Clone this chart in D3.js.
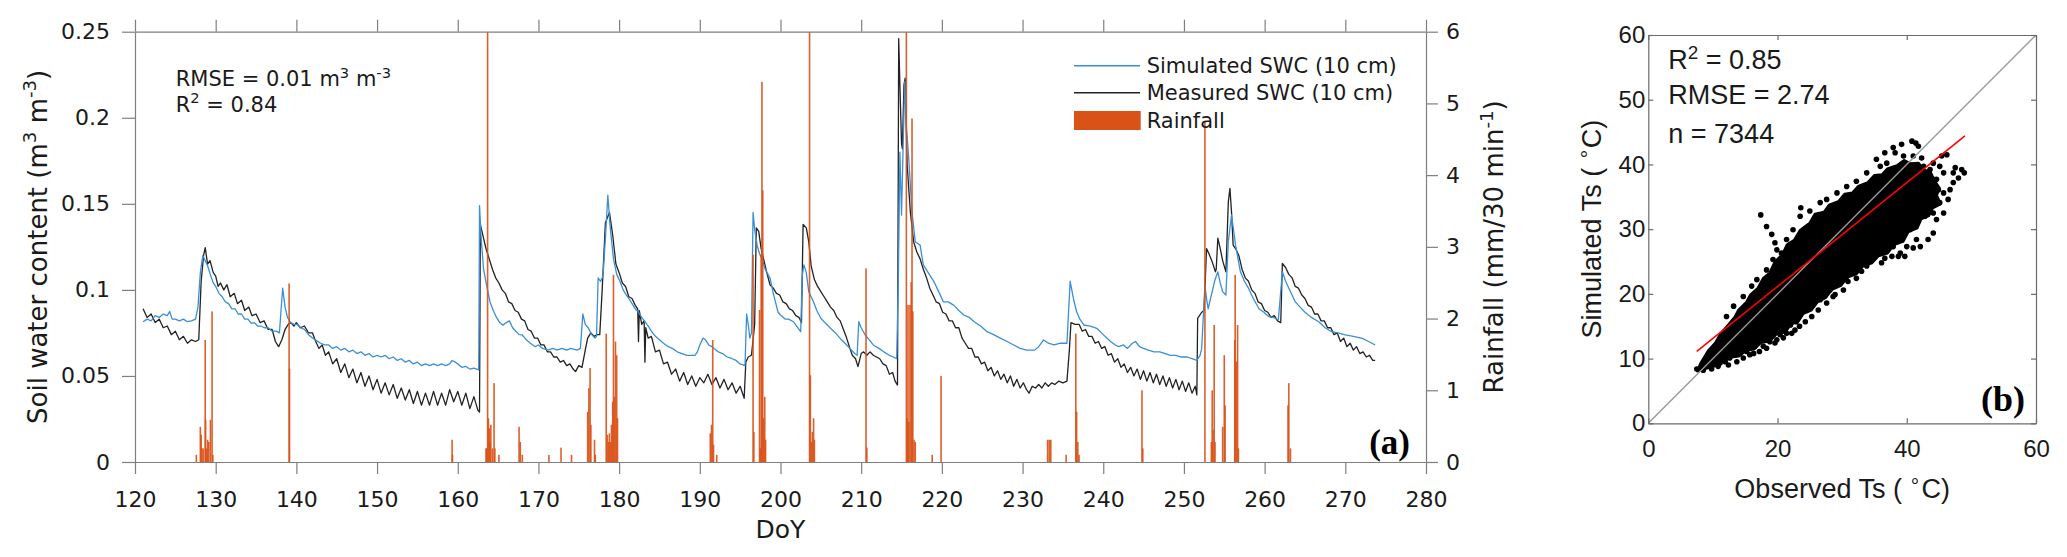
<!DOCTYPE html>
<html>
<head>
<meta charset="utf-8">
<script src="https://cdn.jsdelivr.net/npm/d3@7"></script>
<style>
body { margin: 0; background: #fff; }
</style>
</head>
<body>
<svg id="chart" width="2067" height="557"></svg>
<script>
// ---- panel (a) data ----
var doyTicks = [120, 130, 140, 150, 160, 170, 180, 190, 200, 210, 220, 230, 240, 250, 260, 270, 280];
var swcTicks = [0, 0.05, 0.1, 0.15, 0.2, 0.25];
var swcTickLabels = ["0", "0.05", "0.1", "0.15", "0.2", "0.25"];
var rainTicks = [0, 1, 2, 3, 4, 5, 6];

// [DoY, m3 m-3]
var simulatedSWC = [
[121.0,0.0815],[121.5,0.083],[122.0,0.082],[122.5,0.085],[123.0,0.084],[123.5,0.086],[124.0,0.085],[124.3,0.0875],[124.6,0.083],
[125.0,0.083],[125.5,0.082],[126.0,0.083],[126.5,0.0815],[127.0,0.082],[127.5,0.083],[127.8,0.090],[128.1,0.110],[128.4,0.120],
[128.7,0.117],[129.0,0.114],[129.4,0.108],[129.7,0.104],[130.0,0.102],[130.4,0.098],[130.8,0.096],[131.2,0.093],[131.6,0.092],
[132.0,0.089],[132.4,0.089],[132.8,0.086],[133.2,0.086],[133.6,0.083],[134.0,0.083],[134.4,0.0805],[134.8,0.081],[135.2,0.079],
[135.6,0.079],[136.0,0.078],[136.5,0.078],[137.0,0.076],[137.5,0.076],[137.9,0.075],[138.1,0.088],[138.3,0.101],[138.6,0.090],
[138.9,0.084],[139.3,0.081],[139.7,0.080],[140.1,0.080],[140.5,0.078],[141.0,0.077],[141.5,0.074],[142.0,0.072],[142.5,0.0705],
[143.0,0.069],[143.5,0.068],[144.0,0.068],[144.5,0.066],[145.0,0.067],[145.5,0.065],[146.0,0.066],[146.5,0.064],[147.0,0.065],
[147.5,0.063],[148.0,0.064],[148.5,0.062],[149.0,0.063],[149.5,0.061],[150.0,0.062],[150.5,0.061],[151.0,0.062],[151.5,0.060],
[152.0,0.061],[152.5,0.059],[153.0,0.060],[153.5,0.058],[154.0,0.059],[154.5,0.057],[155.0,0.058],[155.5,0.056],[156.0,0.057],
[156.5,0.056],[157.0,0.057],[157.5,0.056],[158.0,0.057],[158.5,0.056],[159.0,0.057],[159.3,0.059],[159.7,0.058],[160.0,0.057],
[160.5,0.055],[161.0,0.0555],[161.5,0.054],[162.0,0.0545],[162.6,0.0535],[162.7,0.149],[162.9,0.130],[163.2,0.112],[163.6,0.102],
[164.0,0.093],[164.4,0.088],[164.8,0.084],[165.2,0.081],[165.6,0.0795],[166.0,0.081],[166.4,0.082],[166.8,0.078],[167.2,0.076],
[167.6,0.074],[168.0,0.0738],[168.5,0.071],[169.0,0.069],[169.6,0.067],[170.0,0.068],[170.5,0.066],[171.2,0.065],[171.8,0.066],
[172.3,0.065],[172.9,0.066],[173.5,0.065],[174.0,0.066],[174.8,0.065],[175.2,0.066],[175.5,0.086],[175.8,0.080],[176.2,0.0777],
[176.6,0.074],[177.0,0.072],[177.2,0.073],[177.4,0.107],[177.7,0.105],[178.0,0.108],[178.3,0.130],[178.6,0.155],[178.9,0.136],
[179.3,0.118],[179.7,0.109],[180.1,0.105],[180.5,0.100],[180.9,0.097],[181.2,0.095],[181.6,0.092],[182.0,0.089],[182.4,0.087],
[182.8,0.084],[183.2,0.0815],[183.6,0.079],[184.0,0.076],[184.5,0.073],[185.0,0.071],[185.5,0.069],[186.1,0.067],[186.6,0.066],
[187.2,0.064],[187.8,0.063],[188.4,0.062],[189.0,0.062],[189.4,0.062],[189.7,0.064],[190.0,0.068],[190.4,0.072],[190.7,0.071],
[191.1,0.068],[191.5,0.067],[192.0,0.065],[192.3,0.064],[192.8,0.063],[193.4,0.061],[194.0,0.060],[194.5,0.059],[195.0,0.057],
[195.6,0.056],[195.8,0.086],[196.0,0.080],[196.2,0.072],[196.4,0.075],[196.6,0.145],[196.8,0.135],[197.1,0.126],[197.4,0.121],
[197.7,0.118],[198.1,0.112],[198.7,0.107],[199.1,0.098],[199.7,0.087],[200.0,0.0854],[200.6,0.083],[201.0,0.083],[201.6,0.0815],
[202.0,0.079],[202.5,0.0757],[202.7,0.1086],[202.9,0.1145],[203.2,0.110],[203.5,0.099],[204.1,0.093],[204.5,0.088],[205.0,0.0835],
[205.5,0.081],[206.2,0.0777],[206.8,0.075],[207.4,0.0718],[208.0,0.069],[208.6,0.066],[209.2,0.063],[209.5,0.062],[209.7,0.0815],
[210.0,0.078],[210.5,0.0738],[211.0,0.071],[211.5,0.068],[212.2,0.066],[212.8,0.064],[213.5,0.062],[214.0,0.061],[214.4,0.060],
[214.6,0.1048],[214.8,0.180],[215.0,0.1435],[215.2,0.184],[215.4,0.221],[215.6,0.195],[215.9,0.176],[216.3,0.145],[216.7,0.128],
[217.0,0.127],[217.3,0.126],[217.7,0.1145],[218.3,0.110],[219.0,0.105],[219.6,0.099],[220.2,0.093],[220.8,0.093],[221.5,0.091],
[222.1,0.088],[222.7,0.0854],[223.4,0.084],[224.0,0.0815],[224.8,0.079],[225.6,0.0757],[226.4,0.074],[227.3,0.0718],[228.1,0.070],
[228.9,0.068],[229.7,0.066],[230.5,0.065],[231.5,0.065],[232.0,0.067],[232.6,0.0709],[233.2,0.069],[233.9,0.068],[234.7,0.069],
[235.5,0.069],[235.9,0.105],[236.3,0.095],[236.7,0.0873],[237.1,0.083],[237.6,0.0796],[238.4,0.079],[239.2,0.0777],[240.0,0.074],
[240.9,0.070],[241.5,0.068],[241.9,0.067],[242.5,0.068],[243.0,0.066],[243.6,0.069],[244.0,0.070],[244.5,0.067],[245.0,0.066],
[245.6,0.065],[246.3,0.064],[247.0,0.064],[247.7,0.063],[248.3,0.062],[249.0,0.062],[249.7,0.061],[250.4,0.061],[251.0,0.060],
[251.6,0.059],[252.0,0.062],[252.2,0.066],[252.6,0.1028],[252.8,0.095],[253.0,0.089],[253.3,0.095],[253.5,0.099],[253.8,0.105],
[254.2,0.1105],[254.5,0.104],[254.8,0.099],[255.2,0.097],[255.5,0.128],[255.9,0.1435],[256.4,0.126],[257.0,0.1105],[257.5,0.105],
[258.0,0.101],[258.6,0.095],[259.3,0.089],[259.9,0.087],[260.5,0.0845],[261.1,0.084],[261.7,0.0825],[262.2,0.1105],[262.6,0.105],
[263.0,0.101],[263.4,0.097],[263.8,0.093],[264.4,0.090],[265.0,0.087],[265.8,0.084],[266.7,0.0815],[267.5,0.078],[268.3,0.0757],
[269.1,0.075],[270.0,0.0738],[271.0,0.073],[272.1,0.0718],[272.9,0.070],[273.7,0.068]
];

var measuredSWC = [
[121.0,0.089],[121.5,0.084],[122.0,0.086],[122.5,0.081],[123.0,0.083],[123.5,0.078],[124.0,0.079],[124.5,0.074],[125.0,0.076],
[125.5,0.071],[126.0,0.073],[126.5,0.069],[127.0,0.071],[127.5,0.070],[127.9,0.071],[128.2,0.105],[128.5,0.120],[128.7,0.1245],
[129.0,0.115],[129.3,0.117],[129.7,0.110],[130.0,0.108],[130.3,0.102],[130.6,0.104],[131.0,0.100],[131.4,0.103],[131.8,0.096],
[132.3,0.098],[132.7,0.092],[133.2,0.094],[133.6,0.088],[134.1,0.090],[134.5,0.085],[135.0,0.086],[135.5,0.081],[136.0,0.082],
[136.5,0.077],[137.0,0.077],[137.4,0.070],[137.8,0.067],[138.2,0.071],[138.6,0.077],[139.0,0.080],[139.3,0.081],[139.7,0.079],
[140.0,0.081],[140.5,0.078],[141.0,0.079],[141.5,0.075],[142.0,0.075],[142.4,0.070],[142.8,0.066],[143.2,0.068],[143.6,0.062],
[144.0,0.064],[144.5,0.057],[145.0,0.060],[145.5,0.052],[146.0,0.057],[146.5,0.049],[147.0,0.054],[147.5,0.046],[148.0,0.052],
[148.5,0.044],[149.0,0.050],[149.5,0.042],[150.0,0.048],[150.5,0.040],[151.0,0.046],[151.5,0.039],[152.0,0.045],[152.5,0.037],
[153.0,0.043],[153.5,0.036],[154.0,0.042],[154.5,0.034],[155.0,0.041],[155.5,0.033],[156.0,0.040],[156.5,0.033],[157.0,0.041],
[157.5,0.033],[158.0,0.040],[158.5,0.033],[159.0,0.042],[159.5,0.035],[160.0,0.041],[160.5,0.033],[161.0,0.040],[161.5,0.031],
[162.0,0.038],[162.5,0.030],[162.7,0.029],[162.8,0.138],[163.1,0.132],[163.5,0.124],[163.9,0.118],[164.3,0.112],[164.7,0.107],
[165.1,0.104],[165.5,0.100],[165.9,0.098],[166.3,0.093],[166.7,0.092],[167.1,0.088],[167.5,0.087],[167.9,0.083],[168.3,0.082],
[168.7,0.077],[169.1,0.076],[169.5,0.072],[169.9,0.072],[170.3,0.068],[170.7,0.068],[171.1,0.064],[171.5,0.064],[171.9,0.061],
[172.3,0.061],[172.7,0.058],[173.1,0.059],[173.5,0.056],[173.9,0.057],[174.3,0.054],[174.6,0.0525],[175.0,0.056],[175.4,0.055],
[175.8,0.065],[176.1,0.072],[176.5,0.075],[176.9,0.073],[177.3,0.074],[177.6,0.074],[177.9,0.100],[178.3,0.139],[178.8,0.145],
[179.2,0.132],[179.6,0.115],[180.0,0.110],[180.4,0.104],[180.8,0.102],[181.2,0.096],[181.6,0.095],[182.0,0.091],[182.3,0.089],
[182.4,0.070],[182.5,0.088],[182.8,0.080],[183.1,0.082],[183.2,0.058],[183.3,0.078],[183.6,0.072],[184.0,0.073],[184.5,0.064],
[185.0,0.065],[185.5,0.057],[186.0,0.058],[186.5,0.051],[187.0,0.054],[187.5,0.047],[188.0,0.052],[188.5,0.045],[189.0,0.050],
[189.5,0.044],[190.0,0.049],[190.5,0.046],[191.0,0.051],[191.5,0.045],[192.0,0.049],[192.5,0.043],[193.0,0.048],[193.5,0.042],
[194.0,0.046],[194.5,0.040],[195.0,0.044],[195.5,0.037],[195.7,0.058],[196.0,0.061],[196.4,0.062],[196.8,0.080],[197.0,0.136],
[197.3,0.134],[197.6,0.124],[197.9,0.118],[198.3,0.110],[198.7,0.103],[199.1,0.101],[199.5,0.098],[199.9,0.097],[200.3,0.093],
[200.7,0.092],[201.1,0.089],[201.5,0.088],[201.9,0.085],[202.3,0.084],[202.6,0.081],[202.8,0.138],[203.2,0.136],[203.5,0.128],
[203.8,0.114],[204.2,0.106],[204.6,0.102],[205.0,0.099],[205.4,0.096],[205.8,0.093],[206.2,0.090],[206.6,0.088],[207.0,0.084],
[207.4,0.082],[207.8,0.077],[208.2,0.072],[208.6,0.066],[208.9,0.062],[209.3,0.060],[209.6,0.0554],[210.0,0.063],[210.3,0.064],
[210.7,0.062],[211.1,0.064],[211.5,0.062],[211.9,0.061],[212.3,0.060],[212.7,0.057],[213.1,0.056],[213.5,0.051],[213.9,0.052],
[214.2,0.047],[214.5,0.0447],[214.65,0.246],[214.8,0.219],[215.0,0.185],[215.1,0.182],[215.3,0.219],[215.45,0.223],[215.7,0.1725],
[216.1,0.145],[216.5,0.128],[216.9,0.122],[217.3,0.118],[217.7,0.112],[218.1,0.107],[218.5,0.101],[218.9,0.097],[219.3,0.093],
[219.7,0.092],[220.1,0.087],[220.5,0.086],[220.9,0.082],[221.3,0.082],[221.7,0.078],[222.1,0.078],[222.5,0.072],[222.9,0.069],
[223.3,0.066],[223.7,0.066],[224.1,0.061],[224.5,0.061],[224.9,0.057],[225.3,0.058],[225.7,0.053],[226.1,0.055],[226.5,0.050],
[226.9,0.053],[227.3,0.048],[227.7,0.051],[228.1,0.046],[228.5,0.050],[228.9,0.044],[229.3,0.048],[229.7,0.043],[230.1,0.046],
[230.5,0.042],[230.8,0.040],[231.2,0.044],[231.6,0.043],[232.0,0.045],[232.4,0.043],[232.8,0.046],[233.2,0.044],[233.6,0.046],
[234.0,0.045],[234.5,0.047],[235.0,0.046],[235.5,0.047],[235.8,0.065],[236.0,0.081],[236.5,0.080],[237.0,0.080],[237.4,0.076],
[237.8,0.077],[238.2,0.073],[238.6,0.073],[239.0,0.069],[239.4,0.070],[239.8,0.066],[240.2,0.067],[240.6,0.062],[241.0,0.063],
[241.4,0.058],[241.8,0.060],[242.2,0.055],[242.6,0.057],[243.0,0.052],[243.4,0.055],[243.8,0.050],[244.2,0.054],[244.6,0.048],
[245.0,0.053],[245.4,0.047],[245.8,0.052],[246.2,0.046],[246.6,0.051],[247.0,0.045],[247.4,0.050],[247.8,0.044],[248.2,0.049],
[248.6,0.043],[249.0,0.048],[249.4,0.042],[249.8,0.047],[250.2,0.041],[250.6,0.046],[251.0,0.040],[251.4,0.044],[251.6,0.039],
[251.7,0.0835],[252.2,0.087],[252.5,0.088],[252.8,0.124],[253.1,0.121],[253.5,0.1164],[253.9,0.1105],[254.0,0.112],[254.2,0.130],
[254.5,0.124],[254.8,0.117],[255.2,0.1105],[255.5,0.151],[255.7,0.159],[255.9,0.145],[256.1,0.126],[256.4,0.124],[256.8,0.120],
[257.2,0.112],[257.6,0.107],[258.0,0.105],[258.4,0.100],[258.8,0.098],[259.2,0.093],[259.6,0.092],[260.0,0.088],[260.4,0.087],
[260.8,0.084],[261.2,0.085],[261.6,0.082],[262.0,0.081],[262.2,0.1154],[262.6,0.113],[263.0,0.109],[263.4,0.107],[263.8,0.102],
[264.2,0.101],[264.6,0.097],[265.0,0.095],[265.4,0.091],[265.8,0.090],[266.2,0.086],[266.6,0.086],[267.0,0.082],[267.4,0.082],
[267.8,0.078],[268.2,0.078],[268.6,0.074],[269.0,0.075],[269.4,0.070],[269.8,0.072],[270.2,0.067],[270.6,0.069],[271.0,0.065],
[271.4,0.067],[271.8,0.063],[272.2,0.064],[272.6,0.061],[273.0,0.062],[273.4,0.059],[273.7,0.059]
];

// [DoY, mm/30 min]
var rainfall = [
[127.6,0.1],[128.1,0.49],[128.2,0.38],[128.3,0.19],[128.45,0.19],[128.7,1.70],[128.75,0.59],[128.9,0.19],[129.0,0.31],
[129.15,0.28],[129.35,0.59],[129.55,2.10],[129.65,0.1],[139.1,2.49],[139.15,1.30],[159.3,0.31],[159.35,0.1],
[163.5,0.19],[163.6,0.19],[163.7,6.0],[163.8,0.61],[163.9,0.47],[164.0,0.28],[164.1,0.52],[164.3,0.19],[164.5,1.10],[164.6,0.19],
[165.1,0.1],[167.6,0.49],[167.75,0.28],[168.0,0.1],[171.3,0.1],[172.8,0.2],[174.1,0.1],
[176.1,0.70],[176.25,1.03],[176.4,1.31],[176.5,0.52],[176.95,0.31],[177.05,0.1],
[178.4,1.79],[178.55,0.38],[178.7,0.28],[178.8,0.40],[178.95,0.28],[179.05,0.52],[179.2,0.84],[179.3,2.61],[179.4,0.91],
[179.55,1.68],[179.7,1.49],[179.8,0.61],[191.3,0.40],[191.45,0.52],[191.6,1.70],[191.7,0.24],[192.1,0.1],
[196.6,2.89],[196.7,0.42],[197.4,2.12],[197.5,0.19],[197.6,2.90],[197.7,5.30],[197.8,3.79],[197.9,0.61],[198.05,0.91],[198.15,0.31],
[203.6,6.0],[203.7,1.21],[203.85,0.28],[203.95,0.42],[204.1,0.61],[204.2,0.31],[210.6,2.70],[210.7,0.2],
[215.6,6.0],[215.7,0.61],[215.8,2.19],[215.9,0.56],[216.05,2.19],[216.2,2.51],[216.3,4.79],[216.4,2.10],[216.55,0.31],[216.7,0.28],
[218.8,0.1],[219.9,1.20],[233.1,0.31],[233.3,0.31],[233.5,0.31],[235.4,0.1],
[236.6,1.79],[236.7,0.70],[236.85,0.28],[237.0,0.1],[244.8,1.0],[244.9,0.19],
[252.6,4.75],[253.4,0.28],[253.5,1.0],[253.6,0.45],[253.75,1.91],[253.85,0.28],[254.8,0.49],[255.0,1.49],[255.1,0.79],
[256.3,1.70],[256.35,2.61],[256.5,1.40],[256.65,1.91],[256.75,0.19],[262.9,0.79],[263.0,1.10],[263.2,0.19]
];

// ---- panel (b) data ----
var obsTicks = [0, 20, 40, 60];
var simTicks = [0, 10, 20, 30, 40, 50, 60];
var oneToOne = [0, 60];
var fitObs = [7.5, 49];
var fitSim = [11.1, 44.4];

// dense core of the 7344-point cloud, [observed, simulated] in degC
var cloudOutline = [
[7.6,8.1],[8.2,9.4],[9.3,11.2],[10.4,12.4],[11.2,13.8],[12.5,15.3],[13.4,16.4],[14,17.5],[15.2,18.7],[15.8,19.8],[17,20.9],
[17.8,22.4],[18.8,23.2],[19.6,24.9],[20.8,26.1],[21.5,27.6],[22.6,28.3],[23.5,29.8],[25,30.9],[25.8,32.3],[27.2,32.6],
[28,33.7],[29.5,34.3],[30.4,35.4],[31.6,35.6],[32.5,36.6],[34,37.2],[35,38.3],[36.2,38.4],[37,39.3],[38.5,39.8],
[39.6,40.6],[40.6,40.1],[41.8,40.2],[42.6,39.1],[43.6,38.9],[44.2,37.6],[45,36.4],[44.6,35.2],[45.2,33.9],[44,33.3],
[43.4,32.1],[42.2,31.6],[41.6,30.2],[40.2,29.6],[39.4,28.1],[38,27.6],[37,26.3],[35.6,25.9],[34.6,24.8],[33.2,24.3],
[32.2,23.1],[30.8,22.6],[29.8,21.3],[28.4,20.7],[27.4,19.4],[26.2,18.8],[25.2,17.5],[24,17],[23.2,15.8],[22,15.3],
[21.2,14.1],[19.8,13.8],[18.8,12.7],[17.4,12.5],[16.4,11.5],[15,11.2],[14,10.4],[12.6,10.2],[11.6,9.5],[10.2,9.2],
[9.4,8.6],[8.4,8.4]
];

// sparse points on the edge of the cloud
var scatterDots = [
[17.4,32.2],[18.3,30.4],[19.1,29.2],[19.6,27.9],[19.9,26.8],
[40.8,43.6],[41.4,43.3],[41.8,42.8],[39.2,43.1],[37.9,42.6],[38.2,41.8],[36.6,41.8],[35.3,40.8],[35.9,39.7],[36.9,40.2],
[39.5,41.3],[41.0,41.3],[42.3,41.0],[46.2,41.5],[45.4,41.3],[47.5,39.5],[48.5,39.2],[48.9,38.7],[47.2,37.2],[45.7,35.6],
[45.7,38.7],[44.6,37.7],[44.1,35.6],[45.1,34.1],[43.6,33.5],[44.1,32.5],[42.8,32.0],[42.1,33.0],[41.5,31.5],[40.5,29.9],
[39.2,29.4],[39.7,25.8],[38.7,25.8],[37.7,25.8],[36.6,25.5],[36.1,24.8],[35.3,26.3],[34.3,25.3],[33.8,24.3],[33.0,23.5],
[32.2,22.4],[30.7,22.7],[29.7,21.7],[28.9,19.9],[28.1,20.6],[27.1,20.1],[26.6,19.1],[25.5,18.3],[24.5,17.5],[24.0,18.8],
[23.5,17.0],[22.9,15.7],[22.7,14.4],[22.0,15.2],[21.4,13.9],[20.4,13.7],[19.9,12.9],[18.8,12.6],[18.1,12.9],[17.8,11.9],
[16.5,11.9],[16.3,10.8],[15.2,11.1],[14.2,10.8],[13.4,10.6],[12.6,10.1],[11.9,9.5],[11.1,9.3],[10.1,9.0],[9.0,8.8],
[8.0,8.5],[7.5,8.4],[12.1,16.5],[13.2,18.1],[14.7,19.6],[16.0,21.2],[16.8,22.2],[18.3,23.7],[19.3,25.3],[20.6,26.3],
[21.4,28.4],[22.4,29.9],[23.5,32.0],[23.6,33.3],[25.0,32.8],[26.6,34.1],[27.6,34.6],[29.2,35.6],[30.7,36.6],[32.2,37.4],
[33.8,38.7],[44.1,29.4],[43.3,28.4],[42.1,27.3],[41.0,27.1],[41.5,28.4],[40.0,27.3],[39.0,26.3],[37.9,27.3],[44.6,31.5],
[45.7,32.5],[46.4,34.6],[46.7,36.1],[47.2,38.7],[48.0,37.9],[45.1,39.7],[44.1,40.2],[43.6,39.2],[42.6,39.7],[44.1,37.7],
[43.1,36.6],[44.9,36.1],[43.6,34.6],[42.6,33.5],[41.3,32.5],[40.2,31.5],[39.0,30.4],[37.4,29.4],[36.9,28.4],[35.9,27.3],
[34.8,26.3],[33.8,25.8],[32.7,24.8],[31.7,23.7],[30.9,21.9],[30.2,20.6],[28.6,19.6],[27.6,18.6],[26.3,17.5],[25.3,16.5],
[24.3,15.7],[23.4,15.0],[22.2,13.9],[20.9,13.2],[19.6,12.4],[18.3,11.6],[17.2,11.1],[15.7,10.6],[14.7,10.1],[13.7,9.5],
[12.4,9.0],[10.8,8.8],[9.8,8.4],[8.5,8.2],[31.2,24.4],[29.0,23.4],[26.8,21.4],[24.8,19.6],[22.8,17.6],[20.8,15.8],
[18.6,14.2],[35.2,27.6],[38.4,30.4],[40.8,33.6],[42.4,35.6],[43.2,37.2],[39.6,36.4],[38.2,37.8],[36.4,36.9]
];

var svg = d3.select("#chart");
var fontA = "DejaVu Sans";
var fontB = "Liberation Sans, Arial";
var axisGrayA = "#7f7f7f";
var axisGrayB = "#6b6b6b";
var txt = "#1a1a1a";

function styleAxis(g, color, font, size){
	g.select(".domain").attr("stroke", color).attr("stroke-width", 1.2);
	g.selectAll(".tick line").attr("stroke", color).attr("stroke-width", 1.2);
	g.selectAll(".tick text").attr("fill", txt).style("font-family", font).style("font-size", size + "px");
}

// writes text with superscript parts: parts = [[str, isSup], ...]
function richText(parent, x, y, parts, font, size, opts){
	opts = opts || {};
	var t = parent.append("text")
		.attr("x", x).attr("y", y)
		.attr("fill", txt)
		.style("font-family", font)
		.style("font-size", size + "px");
	if(opts.anchor) t.attr("text-anchor", opts.anchor);
	if(opts.transform) t.attr("transform", opts.transform);
	var up = false;
	parts.forEach(function(p){
		var s = t.append("tspan").text(p[0]);
		if(p[1] && !up){
			s.attr("dy", -size * 0.4).style("font-size", (size * 0.7) + "px");
			up = true;
		}
		else if(p[1]){
			s.style("font-size", (size * 0.7) + "px");
		}
		else if(up){
			s.attr("dy", size * 0.4);
			up = false;
		}
	});
	return t;
}

// ================= panel (a) =================
var A = {left: 135, right: 1426, top: 31.7, bottom: 462};
var x = d3.scaleLinear().domain([120, 280]).range([A.left, A.right]);
var y = d3.scaleLinear().domain([0, 0.25]).range([A.bottom, A.top]);
var yr = d3.scaleLinear().domain([0, 6]).range([A.bottom, A.top]);

var pa = svg.append("g");

svg.append("defs").append("clipPath").attr("id", "clipA")
	.append("rect").attr("x", A.left).attr("y", A.top)
	.attr("width", A.right - A.left).attr("height", A.bottom - A.top);

var line = d3.line().x(function(d){ return x(d[0]); }).y(function(d){ return y(d[1]); });

var plotA = pa.append("g").attr("clip-path", "url(#clipA)");
plotA.append("path").datum(measuredSWC).attr("d", line)
	.attr("fill", "none").attr("stroke", "#222").attr("stroke-width", 1.3).attr("stroke-linejoin", "round");
plotA.append("path").datum(simulatedSWC).attr("d", line)
	.attr("fill", "none").attr("stroke", "#3a8fd6").attr("stroke-width", 1.3).attr("stroke-linejoin", "round");

plotA.selectAll("rect.rain").data(rainfall).enter().append("rect")
	.attr("class", "rain")
	.attr("x", function(d){ return x(d[0]) - 0.8; })
	.attr("width", 1.6)
	.attr("y", function(d){ return yr(d[1]); })
	.attr("height", function(d){ return yr(0) - yr(d[1]); })
	.attr("fill", "#d95319")
	.attr("opacity", 0.92);

var gx = pa.append("g").attr("transform", "translate(0," + A.bottom + ")")
	.call(d3.axisBottom(x).tickValues(doyTicks).tickSize(12).tickSizeOuter(0).tickPadding(17).tickFormat(d3.format("d")));
styleAxis(gx, axisGrayA, fontA, 22);
var gxt = pa.append("g").attr("transform", "translate(0," + A.top + ")")
	.call(d3.axisTop(x).tickValues(doyTicks).tickSize(12).tickSizeOuter(0).tickFormat(""));
styleAxis(gxt, axisGrayA, fontA, 22);
var gy = pa.append("g").attr("transform", "translate(" + A.left + ",0)")
	.call(d3.axisLeft(y).tickValues(swcTicks).tickSize(13).tickSizeOuter(0).tickPadding(12)
		.tickFormat(function(d, i){ return swcTickLabels[i]; }));
styleAxis(gy, axisGrayA, fontA, 22);
var gyr = pa.append("g").attr("transform", "translate(" + A.right + ",0)")
	.call(d3.axisRight(yr).tickValues(rainTicks).tickSize(12).tickSizeOuter(0).tickPadding(8).tickFormat(d3.format("d")));
styleAxis(gyr, axisGrayA, fontA, 22);

pa.append("text").attr("x", (A.left + A.right) / 2).attr("y", 538)
	.attr("text-anchor", "middle").attr("fill", txt)
	.style("font-family", fontA).style("font-size", "25px").text("DoY");

richText(pa, 0, 0, [["Soil water content (m", false], ["3", true], [" m", false], ["-3", true], [")", false]],
	fontA, 26, {anchor: "middle", transform: "translate(46.5," + ((A.top + A.bottom) / 2) + ") rotate(-90)"});
richText(pa, 0, 0, [["Rainfall (mm/30 min", false], ["-1", true], [")", false]],
	fontA, 26, {anchor: "middle", transform: "translate(1503," + ((A.top + A.bottom) / 2) + ") rotate(-90)"});

richText(pa, 175.7, 86, [["RMSE = 0.01 m", false], ["3", true], [" m", false], ["-3", true]], fontA, 21);
richText(pa, 175.7, 111.7, [["R", false], ["2", true], [" = 0.84", false]], fontA, 21);

// legend
var leg = pa.append("g");
leg.append("line").attr("x1", 1074).attr("x2", 1140).attr("y1", 65.7).attr("y2", 65.7)
	.attr("stroke", "#3a8fd6").attr("stroke-width", 1.4);
leg.append("line").attr("x1", 1074).attr("x2", 1140).attr("y1", 92.7).attr("y2", 92.7)
	.attr("stroke", "#222").attr("stroke-width", 1.4);
leg.append("rect").attr("x", 1074).attr("y", 111).attr("width", 66.7).attr("height", 19)
	.attr("fill", "#d95319");
["Simulated SWC (10 cm)", "Measured SWC (10 cm)", "Rainfall"].forEach(function(s, i){
	leg.append("text").attr("x", 1146.7).attr("y", [73.3, 100.3, 127.5][i])
		.attr("fill", txt).style("font-family", fontA).style("font-size", "21px").text(s);
});

pa.append("text").attr("x", 1410).attr("y", 454).attr("text-anchor", "end")
	.attr("fill", "#000").style("font-family", "Liberation Serif, Times New Roman")
	.style("font-weight", "bold").style("font-size", "35px").text("(a)");

// ================= panel (b) =================
var B = {left: 1648.3, right: 2036, top: 35, bottom: 423.3};
var xb = d3.scaleLinear().domain([0, 60]).range([B.left, B.right]);
var yb = d3.scaleLinear().domain([0, 60]).range([B.bottom, B.top]);
var pb = svg.append("g");

svg.select("defs").append("clipPath").attr("id", "clipB")
	.append("rect").attr("x", B.left).attr("y", B.top)
	.attr("width", B.right - B.left).attr("height", B.bottom - B.top);

var plotB = pb.append("g").attr("clip-path", "url(#clipB)");
var lineB = d3.line().x(function(d){ return xb(d[0]); }).y(function(d){ return yb(d[1]); });

plotB.append("path").datum(cloudOutline).attr("d", lineB.curve(d3.curveLinearClosed))
	.attr("fill", "#000").attr("stroke", "#000").attr("stroke-width", 3).attr("stroke-linejoin", "round");
plotB.selectAll("circle.pt").data(scatterDots).enter().append("circle")
	.attr("class", "pt")
	.attr("cx", function(d){ return xb(d[0]); })
	.attr("cy", function(d){ return yb(d[1]); })
	.attr("r", 2.8).attr("fill", "#000");

plotB.append("line")
	.attr("x1", xb(oneToOne[0])).attr("y1", yb(oneToOne[0]))
	.attr("x2", xb(oneToOne[1])).attr("y2", yb(oneToOne[1]))
	.attr("stroke", "#9a9a9a").attr("stroke-width", 1.4);
plotB.append("line")
	.attr("x1", xb(fitObs[0])).attr("y1", yb(fitSim[0]))
	.attr("x2", xb(fitObs[1])).attr("y2", yb(fitSim[1]))
	.attr("stroke", "#ff0000").attr("stroke-width", 1.6);

var bx = pb.append("g").attr("transform", "translate(0," + B.bottom + ")")
	.call(d3.axisBottom(xb).tickValues(obsTicks).tickSize(-5).tickSizeOuter(0).tickPadding(16.5).tickFormat(d3.format("d")));
styleAxis(bx, axisGrayB, fontB, 24);
var bxt = pb.append("g").attr("transform", "translate(0," + B.top + ")")
	.call(d3.axisTop(xb).tickValues(obsTicks).tickSize(-5).tickSizeOuter(0).tickFormat(""));
styleAxis(bxt, axisGrayB, fontB, 24);
var by = pb.append("g").attr("transform", "translate(" + B.left + ",0)")
	.call(d3.axisLeft(yb).tickValues(simTicks).tickSize(-5).tickSizeOuter(0).tickPadding(3).tickFormat(d3.format("d")));
styleAxis(by, axisGrayB, fontB, 24);
var byr = pb.append("g").attr("transform", "translate(" + B.right + ",0)")
	.call(d3.axisRight(yb).tickValues(simTicks).tickSize(-5).tickSizeOuter(0).tickFormat(""));
styleAxis(byr, axisGrayB, fontB, 24);

richText(pb, (B.left + B.right) / 2, 498, [["Observed Ts ( ", false], ["\u2218", true], ["C)", false]], fontB, 27, {anchor: "middle"});
richText(pb, 0, 0, [["Simulated Ts ( ", false], ["\u2218", true], ["C)", false]], fontB, 27,
	{anchor: "middle", transform: "translate(1601," + ((B.top + B.bottom) / 2) + ") rotate(-90)"});

richText(pb, 1668.3, 69.3, [["R", false], ["2", true], [" = 0.85", false]], fontB, 27);
richText(pb, 1668.3, 104.3, [["RMSE = 2.74", false]], fontB, 27);
richText(pb, 1668.3, 143.3, [["n = 7344", false]], fontB, 27);

pb.append("text").attr("x", 2025).attr("y", 411).attr("text-anchor", "end")
	.attr("fill", "#000").style("font-family", "Liberation Serif, Times New Roman")
	.style("font-weight", "bold").style("font-size", "36px").text("(b)");
</script>
</body>
</html>
